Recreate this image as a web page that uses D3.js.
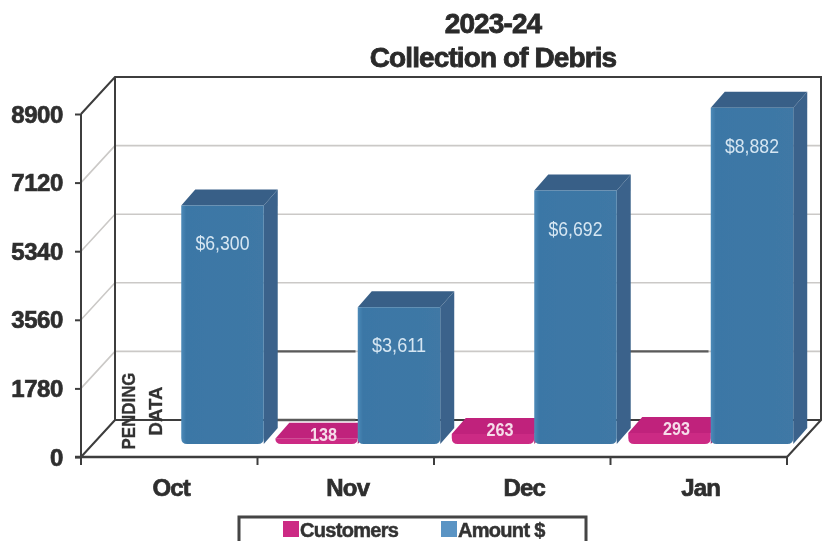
<!DOCTYPE html>
<html>
<head>
<meta charset="utf-8">
<script src="https://cdn.jsdelivr.net/npm/d3@7"></script>
<style>
  html, body { margin: 0; padding: 0; background: #fff; }
  svg { display: block; }
  text { font-family: "Liberation Sans", Arial, sans-serif; }
</style>
</head>
<body>
<div id="chart"></div>
<script>
const months = ["Oct", "Nov", "Dec", "Jan"];
const customers = [null, 138, 263, 293];
const amounts = [6300, 3611, 6692, 8882];
const amountLabels = ["$6,300", "$3,611", "$6,692", "$8,882"];
const yTicks = [0, 1780, 3560, 5340, 7120, 8900];
const seriesNames = ["Customers", "Amount $"];
const titleLines = ["2023-24", "Collection of Debris"];
const pendingLines = ["PENDING", "DATA"];

const width = 827, height = 541;
const depthX = 34, depthY = 37;      // wall offset
const barDx = 14, barDy = 16;        // depth of one bar

const svg = d3.select("#chart").append("svg")
    .attr("width", width)
    .attr("height", height);

const defs = svg.append("defs");
// the source is a scan, everything is a little soft
defs.append("filter").attr("id", "soft")
    .append("feGaussianBlur").attr("stdDeviation", 0.6);
const frontGrad = defs.append("linearGradient").attr("id", "frontGrad");
frontGrad.append("stop").attr("offset", "0%").attr("stop-color", "#4d8ab8");
frontGrad.append("stop").attr("offset", "6%").attr("stop-color", "#3b77a6");
frontGrad.append("stop").attr("offset", "100%").attr("stop-color", "#3f78a5");

const root = svg.append("g").attr("filter", "url(#soft)");

const x0 = d3.scaleBand().domain(months).range([81, 787]);
const x1 = d3.scaleBand().domain(seriesNames).range([0, x0.bandwidth()]).paddingOuter(0.07);
const y = d3.scaleLinear().domain([0, 8900]).range([457, 114]);
const yBar = d3.scaleLinear().domain([0, 8900]).range([444, 107]);

const wallColor = "#3c3c3c", gridColor = "#cbc9c7";

// walls
const wall = root.append("g").attr("fill", "none");
const gridVals = yTicks.slice(1, -1);
wall.selectAll(".side").data(gridVals).enter().append("path")
    .attr("d", d => d3.line()([[81, y(d)], [81 + depthX, y(d) - depthY], [787 + depthX, y(d) - depthY]]))
    .attr("stroke", gridColor).attr("stroke-width", 1.6);

const frame = d3.path();
frame.moveTo(81, y(8900));
frame.lineTo(81 + depthX, y(8900) - depthY);
frame.lineTo(787 + depthX, y(8900) - depthY);
frame.lineTo(787 + depthX, y(0) - depthY);
frame.lineTo(787, y(0));
frame.moveTo(81, y(0));
frame.lineTo(81 + depthX, y(0) - depthY);
frame.lineTo(81 + depthX, y(8900) - depthY);
frame.moveTo(81 + depthX, y(0) - depthY);
frame.lineTo(787 + depthX, y(0) - depthY);
wall.append("path").attr("d", frame.toString()).attr("stroke", wallColor).attr("stroke-width", 2);

// darker pieces of gridline in the gaps, as they came out in the scan
const darkSpans = [["Nov", 1780], ["Jan", 1780], ["Nov", 0]];
wall.selectAll(".dark").data(darkSpans).enter().append("line")
    .attr("x1", d => x0(d[0]) + 19)
    .attr("x2", d => x0(d[0]) + 98)
    .attr("y1", d => y(d[1]) - depthY)
    .attr("y2", d => y(d[1]) - depthY)
    .attr("stroke", "#5a5a5a").attr("stroke-width", 2.4);

// pending note on the floor of October
root.append("g").selectAll("text").data(pendingLines).enter().append("text")
    .attr("transform", (d, i) => "translate(" + (x0("Oct") + 54 + i * 27) + ",411) rotate(-90)")
    .attr("text-anchor", "middle")
    .attr("font-size", 19)
    .attr("font-weight", "bold")
    .attr("fill", "#333")
    .attr("stroke", "#333").attr("stroke-width", 0.3)
    .attr("textLength", d => d.length * (d == "DATA" ? 12.2 : 11))
    .attr("lengthAdjust", "spacingAndGlyphs")
    .text(d => d);

function bar(g, xLeft, w, v, colors) {
    const b = yBar(0), t = yBar(v), r = 6;
    // right side
    g.append("path").attr("fill", colors.side)
        .attr("d", d3.line()([[xLeft + w, t], [xLeft + w + barDx, t - barDy], [xLeft + w + barDx, b - barDy], [xLeft + w, b]]));
    // top
    g.append("path").attr("fill", colors.top)
        .attr("d", d3.line()([[xLeft, t], [xLeft + barDx, t - barDy], [xLeft + w + barDx, t - barDy], [xLeft + w, t]]));
    // front
    const p = d3.path();
    p.moveTo(xLeft, t);
    p.lineTo(xLeft + w, t);
    p.lineTo(xLeft + w, b - r);
    p.quadraticCurveTo(xLeft + w, b, xLeft + w - r, b);
    p.lineTo(xLeft + r, b);
    p.quadraticCurveTo(xLeft, b, xLeft, b - r);
    p.closePath();
    g.append("path").attr("fill", colors.front).attr("d", p.toString());
}

const pink = { front: "#cc2a84", side: "#a81f6c", top: "#c0237b" };
const blue = { front: "url(#frontGrad)", side: "#3a628b", top: "#385f87" };

const barsG = root.append("g");
months.forEach((m, i) => {
    const cx = x0(m) + barDx - 2;
    if (customers[i] != null) {
        bar(barsG.append("g"), cx + x1("Customers"), x1.bandwidth(), customers[i], pink);
    }
});
months.forEach((m, i) => {
    const cx = x0(m) + barDx - 2;
    bar(barsG.append("g"), cx + x1("Amount $"), x1.bandwidth(), amounts[i], blue);
});

// value labels
root.append("g").selectAll("text").data(months).enter().append("text")
    .attr("x", d => x0(d) + barDx - 2 + x1("Amount $") + x1.bandwidth() / 2)
    .attr("y", (d, i) => yBar(amounts[i]) + 45)
    .attr("text-anchor", "middle")
    .attr("font-size", 21)
    .attr("fill", "#d6e6f2")
    .attr("textLength", 54)
    .attr("lengthAdjust", "spacingAndGlyphs")
    .text((d, i) => amountLabels[i]);

root.append("g").selectAll("text").data(months.filter((d, i) => customers[i] != null)).enter().append("text")
    .attr("x", d => x0(d) + barDx - 2 + x1("Customers") + x1.bandwidth() / 2 + barDx / 2)
    .attr("y", d => yBar(customers[months.indexOf(d)]) + 2)
    .attr("text-anchor", "middle")
    .attr("font-size", 18)
    .attr("font-weight", "bold")
    .attr("fill", "#f6dcea")
    .attr("textLength", 27)
    .attr("lengthAdjust", "spacingAndGlyphs")
    .text(d => customers[months.indexOf(d)]);

// axes
const yAxis = root.append("g")
    .attr("transform", "translate(81,0)")
    .call(d3.axisLeft(y).tickValues(yTicks).tickSize(6).tickPadding(12).tickFormat(d => d));
yAxis.selectAll("path.domain").attr("stroke", wallColor).attr("stroke-width", 2)
    .attr("d", d3.line()([[0, y(8900)], [0, y(0)]]));
yAxis.selectAll("line").attr("stroke", wallColor).attr("stroke-width", 2);
yAxis.selectAll("text")
    .attr("font-size", 24)
    .attr("font-weight", "bold")
    .attr("letter-spacing", -0.4)
    .attr("dy", "0.34em")
    .attr("fill", "#2e2e2e")
    .attr("stroke", "#2e2e2e").attr("stroke-width", 0.7)
    .style("font-family", "\"Liberation Sans\", Arial, sans-serif");

const xAxis = root.append("g")
    .attr("transform", "translate(0,457)")
    .call(d3.axisBottom(x0).tickSize(0).tickPadding(22));
xAxis.select("path.domain").attr("stroke", wallColor).attr("stroke-width", 2.4)
    .attr("d", "M75,0H787");
xAxis.selectAll("text")
    .attr("dx", 2)
    .attr("font-size", 24)
    .attr("font-weight", "bold")
    .attr("letter-spacing", -0.8)
    .attr("fill", "#2e2e2e")
    .attr("stroke", "#2e2e2e").attr("stroke-width", 0.7)
    .style("font-family", "\"Liberation Sans\", Arial, sans-serif");

root.append("g").selectAll("line").data(months.concat(["end"])).enter().append("line")
    .attr("x1", d => d == "end" ? x0.range()[1] : x0(d))
    .attr("x2", d => d == "end" ? x0.range()[1] : x0(d))
    .attr("y1", 457).attr("y2", 465)
    .attr("stroke", wallColor).attr("stroke-width", 2);

// title
root.append("g").selectAll("text").data(titleLines).enter().append("text")
    .attr("x", 493)
    .attr("y", (d, i) => 33 + i * 34)
    .attr("text-anchor", "middle")
    .attr("font-size", 28)
    .attr("font-weight", "bold")
    .attr("letter-spacing", -0.9)
    .attr("fill", "#2a2a2a")
    .attr("stroke", "#2a2a2a").attr("stroke-width", 0.8)
    .text(d => d);

// legend, runs off the bottom of the picture like the reference
const legend = root.append("g");
legend.append("rect")
    .attr("x", 239).attr("y", 517).attr("width", 347).attr("height", 40)
    .attr("fill", "#fff").attr("stroke", "#444").attr("stroke-width", 3);
const legendX = d3.scaleOrdinal().domain(seriesNames).range([283, 441]);
const legendColor = d3.scaleOrdinal().domain(seriesNames).range(["#cc2a84", "#5a94c4"]);
legend.selectAll("rect.key").data(seriesNames).enter().append("rect")
    .attr("class", "key")
    .attr("x", d => legendX(d)).attr("y", 521).attr("width", 16).attr("height", 16)
    .attr("fill", d => legendColor(d));
legend.selectAll("text").data(seriesNames).enter().append("text")
    .attr("x", d => legendX(d) + 17).attr("y", 537)
    .attr("font-size", 20)
    .attr("font-weight", "bold")
    .attr("letter-spacing", -0.7)
    .attr("fill", "#333")
    .attr("stroke", "#333").attr("stroke-width", 0.5)
    .text(d => d);
</script>
</body>
</html>
